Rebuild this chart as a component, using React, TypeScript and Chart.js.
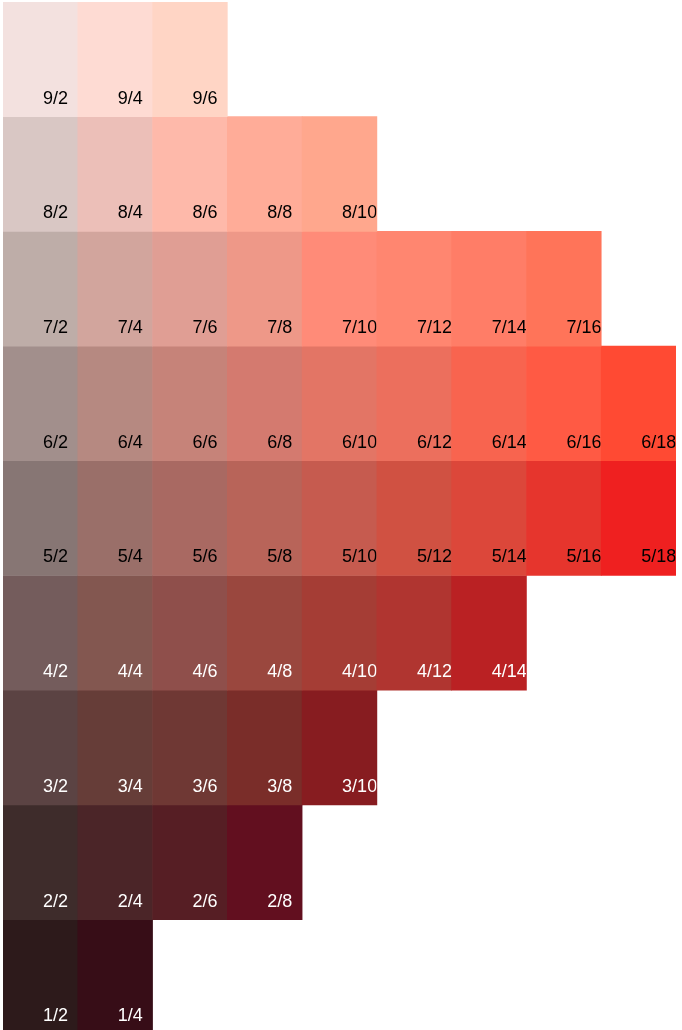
import React, { useEffect, useRef } from "react";
import { Chart, registerables } from "chart.js";

Chart.register(...registerables);

const chromas = [2, 4, 6, 8, 10, 12, 14, 16, 18];
const chromaLabels = ["2", "4", "6", "8", "10", "12", "14", "16", "18"];
const values = [9, 8, 7, 6, 5, 4, 3, 2, 1];

const row9 = ["#F3E1DF", "#FEDBD3", "#FFD5C5"];
const row8 = ["#D9C7C4", "#ECBFB8", "#FEB9AA", "#FFAC98", "#FFA78D"];
const row7 = ["#BEADA8", "#D2A59D", "#E09E94", "#EE9888", "#FF8B78", "#FF8670", "#FF7D67", "#FF7459"];
const row6 = ["#A28F8C", "#B68981", "#C68379", "#D47A6F", "#E37565", "#EC6F5D", "#F8644F", "#FF5A44", "#FF4A33"];
const row5 = ["#877674", "#9A6F69", "#A96962", "#B86459", "#C65B4F", "#D05142", "#DC473A", "#E6352D", "#EF2020"];
const row4 = ["#745C5C", "#835750", "#8F4F4B", "#9A473E", "#A53D35", "#B03530", "#BA2123"];
const row3 = ["#5B4343", "#663D38", "#6F3834", "#7A2D29", "#871C20"];
const row2 = ["#3E2C2B", "#4B2528", "#561E24", "#620F1F"];
const row1 = ["#2D1A1B", "#370D17"];

const rowColors = [row9, row8, row7, row6, row5, row4, row3, row2, row1];

export default function App() {
  const ref = useRef<HTMLCanvasElement>(null);
  useEffect(() => {
    if (!ref.current) return;
    document.body.style.overflow = "hidden";
    const datasets = values.map((v, r) => {
      const cols = rowColors[r];
      return {
        label: String(v),
        data: chromas.map((c, i) => (i < cols.length ? [v - 0.5, v + 0.5] : null)),
        backgroundColor: chromas.map((c, i) => (i < cols.length ? cols[i] : "rgba(0,0,0,0)")),
        borderWidth: 0,
        barPercentage: 1,
        categoryPercentage: 1,
        grouped: false,
      };
    });
    const labelPlugin = {
      id: "cellLabels",
      afterDatasetsDraw(chart: any) {
        const ctx = chart.ctx;
        const xs = chart.scales.x;
        const ys = chart.scales.y;
        const colW = (xs.right - xs.left) / chromas.length;
        ctx.save();
        ctx.font = '18px "Liberation Sans", Arial, sans-serif';
        ctx.textAlign = "left";
        ctx.textBaseline = "alphabetic";
        values.forEach((v, r) => {
          const cols = rowColors[r];
          cols.forEach((_, i) => {
            const left = xs.getPixelForValue(i) - colW / 2;
            const bottom = ys.getPixelForValue(v - 0.5);
            const top = ys.getPixelForValue(v + 0.5);
            ctx.save();
            ctx.beginPath();
            ctx.rect(left, top, colW - 0.5, bottom - top);
            ctx.clip();
            ctx.fillStyle = v >= 5 ? "#000000" : "#FFFFFF";
            ctx.fillText(`${v}/${chromas[i]}`, left + 40, bottom - 13);
            ctx.restore();
          });
        });
        ctx.restore();
      },
    };
    const chart = new Chart(ref.current, {
      type: "bar",
      data: { labels: chromaLabels, datasets: datasets as any },
      options: {
        animation: false,
        responsive: false,
        maintainAspectRatio: false,
        layout: { padding: { left: 3, right: 6, top: 2, bottom: 0 } },
        plugins: { legend: { display: false }, tooltip: { enabled: false } },
        scales: {
          x: { display: false, offset: true },
          y: { display: false, min: 0.537, max: 9.5 },
        },
      },
      plugins: [labelPlugin],
    });
    return () => chart.destroy();
  }, []);
  return (
    <div style={{ position: "absolute", left: 0, top: 0, width: 682, height: 1030 }}>
      <canvas ref={ref} width={682} height={1030} style={{ display: "block" }} />
    </div>
  );
}
